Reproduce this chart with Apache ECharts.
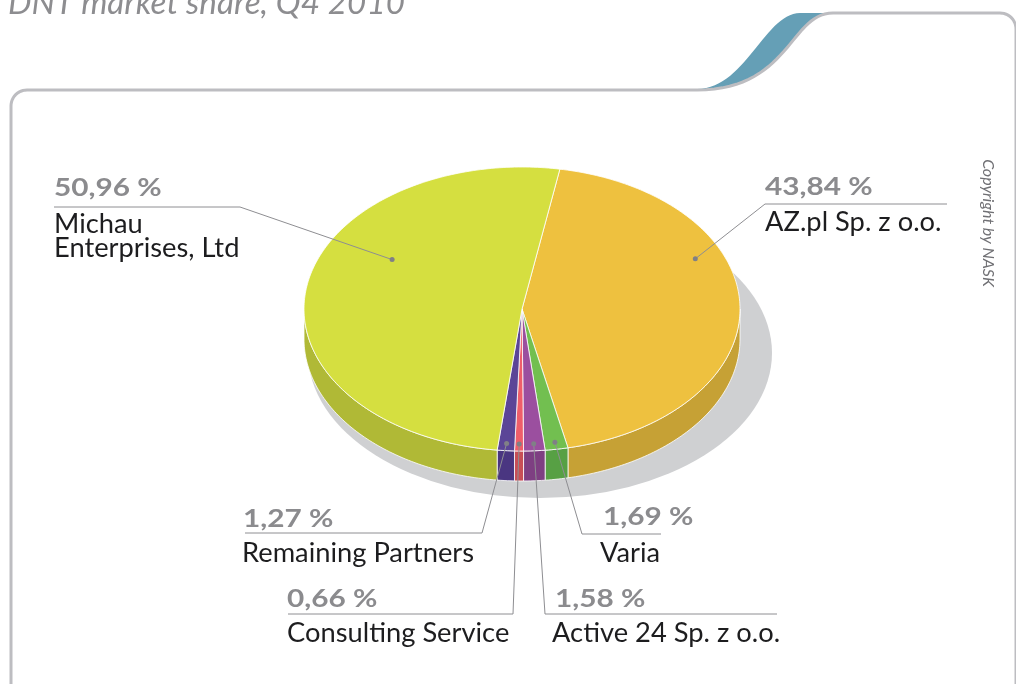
<!DOCTYPE html>
<html>
<head>
<meta charset="utf-8">
<title>DNT market share, Q4 2010</title>
<script src="https://cdn.jsdelivr.net/npm/echarts@6/dist/echarts.min.js"></script>
<style>
  html, body { margin: 0; padding: 0; background: #fff; }
  #chart { width: 1016px; height: 684px; }
</style>
</head>
<body>
<div id="chart"></div>
<script>
// dane - udzialy w rynku, kolejnosc zgodnie z ruchem wskazowek zegara
var names = ['AZ.pl Sp. z o.o.', 'Varia', 'Active 24 Sp. z o.o.', 'Consulting Service', 'Remaining Partners', 'Michau\nEnterprises, Ltd'];
var shares = [43.84, 1.69, 1.58, 0.66, 1.27, 50.96];

// kolory
var topColors = ['#eec13f', '#72bf50', '#9b4f9f', '#ef5e6a', '#5b4597', '#d5df40'];
var sideColors = ['#c6a135', '#57a044', '#7e3f82', '#c84f56', '#4a3681', '#b0b936'];

// geometria "3d" tortu
var CX = 522, CY = 309, RX = 218, RY = 142, DEPTH = 30, START = 10;

// rozmieszczenie etykiet: pct [x,y], name [x,y], line [elbowX, farX, y], anchor [t, r]
var labelLayout = [
    { pct: [765, 187], name: [765, 223], line: [765, 947, 204], anchor: [0.355, 0.87] },
    { pct: [603, 517], name: [600, 554], line: [582, 661, 534], anchor: [0.5, 0.95] },
    { pct: [555, 599], name: [552, 634], line: [545, 777, 614], anchor: [0.5, 0.95] },
    { pct: [287, 599], name: [287, 634], line: [513, 288, 614], anchor: [0.5, 0.95] },
    { pct: [243, 519], name: [242, 554], line: [482, 245, 533], anchor: [0.5, 0.95] },
    { pct: [54, 188], name: [54, 237], line: [240, 54, 207], anchor: [0.62, 0.69] }
];

var total = shares.reduce(function (a, b) { return a + b; }, 0);
var before = [];
shares.reduce(function (acc, v, i) { before[i] = acc; return acc + v; }, 0);

function pt(deg, f, dy) {
    var r = deg * Math.PI / 180;
    return [CX + RX * f * Math.sin(r), CY - RY * f * Math.cos(r) + (dy || 0)];
}

function arc(a0, a1, dy) {
    var n = Math.max(2, Math.ceil(Math.abs(a1 - a0)));
    var out = [];
    for (var k = 0; k <= n; k++) out.push(pt(a0 + (a1 - a0) * k / n, 1, dy));
    return out;
}

// probkowanie krzywej beziera (ramka)
function bez(p0, p1, p2, p3) {
    var out = [];
    for (var k = 0; k <= 30; k++) {
        var t = k / 30, u = 1 - t;
        out.push([
            u * u * u * p0[0] + 3 * u * u * t * p1[0] + 3 * u * t * t * p2[0] + t * t * t * p3[0],
            u * u * u * p0[1] + 3 * u * u * t * p1[1] + 3 * u * t * t * p2[1] + t * t * t * p3[1]
        ]);
    }
    return out;
}

function corner(cx, cy, r, a0, a1) {
    var out = [];
    for (var k = 0; k <= 12; k++) {
        var a = (a0 + (a1 - a0) * k / 12) * Math.PI / 180;
        out.push([cx + r * Math.cos(a), cy + r * Math.sin(a)]);
    }
    return out;
}

function fmt(v) {
    return v.toFixed(2).replace('.', ',') + ' %';
}

// tekst z lekkim rozciagnieciem w poziomie (zastepstwo dla Gill Sans)
function txt(text, x, y, font, color, sx) {
    return {
        type: 'text', z2: 8,
        x: x, y: y, scaleX: sx || 1,
        style: {
            text: text, x: 0, y: 0, font: font, fill: color,
            align: 'left', verticalAlign: 'middle', textAlign: 'left', textVerticalAlign: 'middle',
            lineHeight: 24
        }
    };
}

function renderItem(params, api) {
    var i = params.dataIndex;
    var v = api.value(0), b = api.value(1);
    var a0 = START + b / total * 360;
    var a1 = a0 + v / total * 360;
    var children = [];

    // bok (tylko przednia polowa)
    var s0 = Math.max(a0, 90), s1 = Math.min(a1, 270);
    if (s1 > s0) {
        var sidePts = arc(s0, s1, 0).concat(arc(s1, s0, DEPTH));
        children.push({
            type: 'polygon', z2: 1,
            shape: { points: sidePts },
            style: { fill: sideColors[i], stroke: '#fff', lineWidth: 0.8 }
        });
    }

    // wierzch
    var topPts = [[CX, CY]].concat(arc(a0, a1, 0));
    children.push({
        type: 'polygon', z2: 2,
        shape: { points: topPts },
        style: { fill: topColors[i], stroke: '#fff', lineWidth: 0.8 }
    });

    // linia odniesienia + kropka
    var lay = labelLayout[i];
    var anchor = pt(a0 + (a1 - a0) * lay.anchor[0], lay.anchor[1]);
    children.push({
        type: 'polyline', z2: 6,
        shape: { points: [anchor, [lay.line[0], lay.line[2]], [lay.line[1], lay.line[2]]] },
        style: { stroke: '#8e8e92', lineWidth: 1, fill: null }
    });
    children.push({
        type: 'circle', z2: 7,
        shape: { cx: anchor[0], cy: anchor[1], r: 2.5 },
        style: { fill: '#808086' }
    });

    children.push(txt(fmt(v), lay.pct[0], lay.pct[1], 'bold 24px Lato', '#8b8b8e', 1.24));
    children.push(txt(names[i], lay.name[0], lay.name[1], '26px Lato', '#1d1d1f', 1.05));

    return { type: 'group', children: children };
}

var seriesData = shares.map(function (v, i) {
    return { name: names[i], value: [v, before[i]] };
});

// ramka z zakladka
var framePts = [[11, 700]]
    .concat(corner(27, 106, 16, 180, 270))
    .concat(bez([697, 90], [790, 90], [790, 13], [833, 13]))
    .concat(corner(1000, 29, 16, 270, 360))
    .concat([[1016, 700]]);
var tealPts = bez([697, 89], [745, 89], [765, 13], [800, 13])
    .concat([[862, 13]])
    .concat(bez([833, 13], [790, 13], [790, 90], [697, 90]));

var chart = echarts.init(document.getElementById('chart'));
chart.setOption({
    backgroundColor: '#fff',
    animation: false,
    graphic: {
        elements: [
            {
                type: 'text', z: 10,
                x: 8, y: 4, scaleX: 1.04,
                style: { text: 'DNT market share, Q4 2010', x: 0, y: 0, font: 'italic 32px Lato', fill: '#8d8d90',
                    align: 'left', verticalAlign: 'middle', textAlign: 'left', textVerticalAlign: 'middle' }
            },
            {
                type: 'polygon', z: 1,
                shape: { points: tealPts },
                style: { fill: '#659fb6' }
            },
            {
                type: 'polyline', z: 2,
                shape: { points: framePts },
                style: { fill: null, stroke: '#bdbdc1', lineWidth: 3 }
            },
            {
                type: 'circle', z: 1,
                x: 540, y: 353, scaleY: 145 / 232,
                shape: { cx: 0, cy: 0, r: 232 },
                style: { fill: '#cfd0d2' }
            },
            {
                type: 'text', z: 10,
                x: 988, y: 223, rotation: -Math.PI / 2,
                style: { text: 'Copyright by NASK', x: 0, y: 0, font: 'italic 16px Lato', fill: '#707074',
                    align: 'center', verticalAlign: 'middle', textAlign: 'center', textVerticalAlign: 'middle' }
            }
        ]
    },
    series: [{
        type: 'custom',
        coordinateSystem: 'none',
        z: 5,
        renderItem: renderItem,
        data: seriesData
    }]
});
</script>
</body>
</html>
